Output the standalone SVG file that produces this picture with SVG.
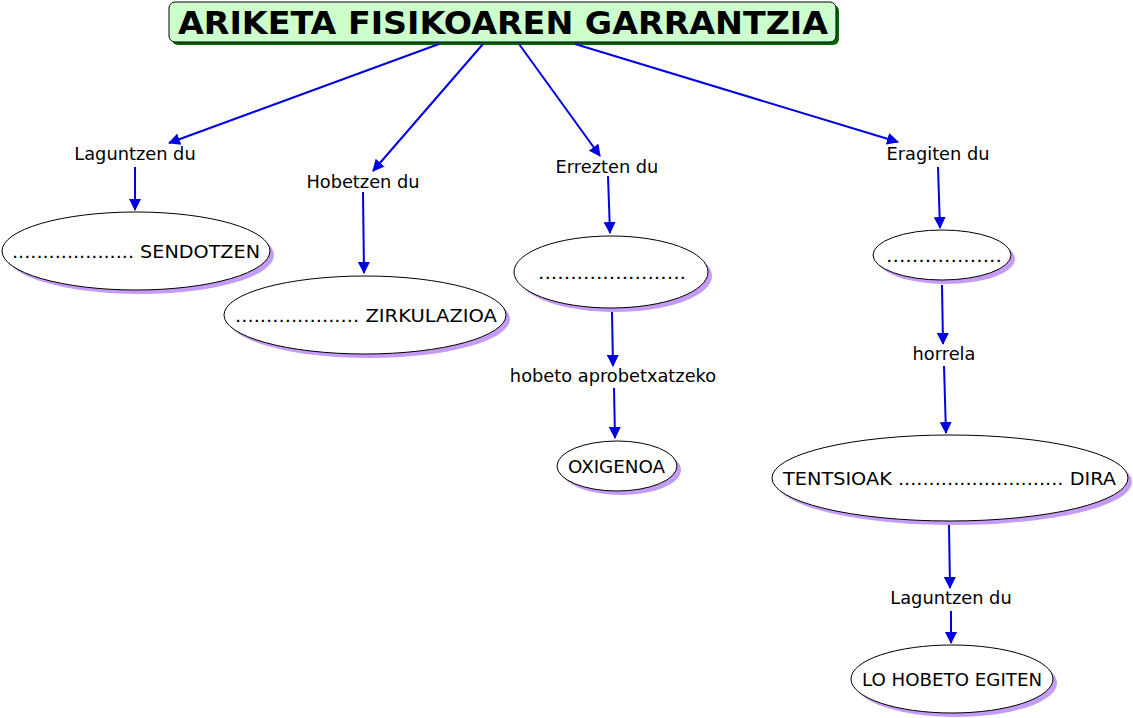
<svg xmlns="http://www.w3.org/2000/svg" width="1133" height="718" viewBox="0 0 1133 718">
<defs>
<marker id="ah" markerWidth="12" markerHeight="12" refX="11" refY="6" orient="auto" markerUnits="userSpaceOnUse">
<path d="M0,0 L12,6 L0,12 Z" fill="#0000e0"/>
</marker>
<style>
.lbl{font-family:"DejaVu Sans","Verdana",sans-serif;font-size:17.8px;fill:#000;text-anchor:middle}
.nt{font-family:"DejaVu Sans","Verdana",sans-serif;font-size:17.8px;fill:#000}
.sh{fill:#c49cf5}
.el{fill:#fff;stroke:#000;stroke-width:1}
.cn{stroke:#0000e0;stroke-width:2;fill:none;marker-end:url(#ah)}
</style>
</defs>
<rect width="1133" height="718" fill="#fff"/>
<g id="title">
<rect x="172" y="5" width="667" height="40" rx="6" fill="#006600"/>
<rect x="169" y="2" width="667" height="40" rx="6" fill="#ccffcc" stroke="#000" stroke-width="1"/>
<text x="178" y="34" font-family="DejaVu Sans, Verdana, sans-serif" font-weight="bold" font-size="32" textLength="650" lengthAdjust="spacingAndGlyphs">ARIKETA FISIKOAREN GARRANTZIA</text>
</g>
<g id="connectors">
<line class="cn" x1="439" y1="44" x2="169" y2="143"/>
<line class="cn" x1="483" y1="44" x2="373" y2="171"/>
<line class="cn" x1="519" y1="44" x2="600" y2="156"/>
<line class="cn" x1="575" y1="44" x2="898" y2="142"/>
<line class="cn" x1="135" y1="167" x2="135" y2="210"/>
<line class="cn" x1="363" y1="192" x2="364" y2="273"/>
<line class="cn" x1="608" y1="176" x2="610" y2="233"/>
<line class="cn" x1="938" y1="167" x2="940" y2="228"/>
<line class="cn" x1="612" y1="312" x2="613" y2="366"/>
<line class="cn" x1="614" y1="388" x2="615" y2="438"/>
<line class="cn" x1="942" y1="285" x2="943" y2="344"/>
<line class="cn" x1="944" y1="366" x2="946" y2="433"/>
<line class="cn" x1="949" y1="525" x2="950" y2="588"/>
<line class="cn" x1="951" y1="611" x2="951" y2="643"/>
</g>
<g id="lbl1"><text class="lbl" x="135" y="160">Laguntzen du</text></g>
<g id="lbl2"><text class="lbl" x="363" y="188">Hobetzen du</text></g>
<g id="lbl3"><text class="lbl" x="607" y="173">Errezten du</text></g>
<g id="lbl4"><text class="lbl" x="938" y="160">Eragiten du</text></g>
<g id="lbl5"><text class="lbl" x="613" y="382">hobeto aprobetxatzeko</text></g>
<g id="lbl6"><text class="lbl" x="944" y="360">horrela</text></g>
<g id="lbl7"><text class="lbl" x="951" y="604">Laguntzen du</text></g>
<g id="n1">
<ellipse class="sh" cx="140" cy="255" rx="134" ry="39"/>
<ellipse class="el" cx="136" cy="251" rx="134" ry="39"/>
<text class="nt" x="12" y="258" textLength="248" lengthAdjust="spacingAndGlyphs">.................... SENDOTZEN</text>
</g>
<g id="n2">
<ellipse class="sh" cx="369" cy="319" rx="141" ry="39"/>
<ellipse class="el" cx="365" cy="315" rx="141" ry="39"/>
<text class="nt" x="235" y="322" textLength="262" lengthAdjust="spacingAndGlyphs">.................... ZIRKULAZIOA</text>
</g>
<g id="n3">
<ellipse class="sh" cx="615" cy="276" rx="97" ry="36"/>
<ellipse class="el" cx="611" cy="272" rx="97" ry="36"/>
<text class="nt" x="538" y="279" textLength="148" lengthAdjust="spacingAndGlyphs">.......................</text>
</g>
<g id="n4">
<ellipse class="sh" cx="621" cy="470" rx="60" ry="25"/>
<ellipse class="el" cx="617" cy="466" rx="60" ry="25"/>
<text class="nt" x="568" y="473" textLength="97" lengthAdjust="spacingAndGlyphs">OXIGENOA</text>
</g>
<g id="n5">
<ellipse class="sh" cx="946" cy="259" rx="69" ry="25"/>
<ellipse class="el" cx="942" cy="255" rx="69" ry="25"/>
<text class="nt" x="886" y="262" textLength="116" lengthAdjust="spacingAndGlyphs">..................</text>
</g>
<g id="n6">
<ellipse class="sh" cx="954" cy="482" rx="178" ry="43"/>
<ellipse class="el" cx="950" cy="478" rx="178" ry="43"/>
<text class="nt" x="783" y="485" textLength="333" lengthAdjust="spacingAndGlyphs">TENTSIOAK ........................... DIRA</text>
</g>
<g id="n7">
<ellipse class="sh" cx="956" cy="683" rx="101" ry="34"/>
<ellipse class="el" cx="952" cy="679" rx="101" ry="34"/>
<text class="nt" x="862" y="686" textLength="180" lengthAdjust="spacingAndGlyphs">LO HOBETO EGITEN</text>
</g>
</svg>
